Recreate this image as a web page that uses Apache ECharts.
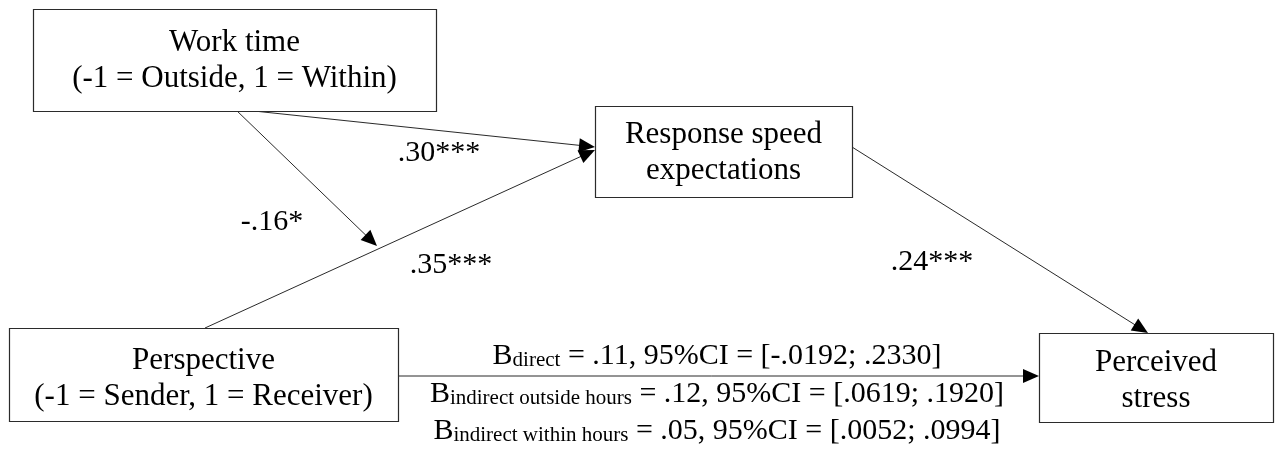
<!DOCTYPE html>
<html>
<head>
<meta charset="utf-8">
<title>Path model</title>
<script src="https://cdn.jsdelivr.net/npm/echarts@6/dist/echarts.min.js"></script>
<style>
  html, body { margin: 0; padding: 0; background: #fff; }
  #main { width: 1278px; height: 454px; }
</style>
</head>
<body>
<div id="main"></div>
<script>
// variables of the model
var nodeLines = [
  ['Work time', '(-1 = Outside, 1 = Within)'],
  ['Response speed', 'expectations'],
  ['Perspective', '(-1 = Sender, 1 = Receiver)'],
  ['Perceived', 'stress']
]

// path coefficients
var pathCoefs = ['.30***', '-.16*', '.35***', '.24***']

// direct / indirect effects of perspective on stress
var effectNames = ['direct', 'indirect outside hours', 'indirect within hours']
var effectB = ['.11', '.12', '.05']
var effectLow = ['-.0192', '.0619', '.0052']
var effectHigh = ['.2330', '.1920', '.0994']

// ---- layout (diagram units = pixels of the 1278 x 454 canvas) ----
// box: [left, top, right, bottom, textCenterX, textCenterY]
var nodeLayout = [
  [33, 9, 436, 111, 234.5, 61],
  [595, 106, 852, 197, 723.5, 153],
  [9, 328, 398, 421, 203.5, 379],
  [1039, 333, 1273, 422, 1156, 381]
]
// arrows: [fromX, fromY, toX, toY]
var edgeLayout = [
  [235, 109, 595, 147],
  [235, 109, 377, 246],
  [205, 328, 595, 150],
  [852, 147, 1148, 333],
  [398, 376, 1039, 376]
]
// coefficient label centers
var coefLayout = [[439, 153], [272, 222], [451, 265], [932, 262]]
// effect lines centers
var effectLayout = [[717, 356], [717, 394], [717, 431]]

var FONT = '"Liberation Serif", "Times New Roman", serif'

function renderNode(params, api) {
  var i = params.dataIndex
  var p0 = api.coord([api.value(0), api.value(1)])
  var p1 = api.coord([api.value(2), api.value(3)])
  var c = api.coord([api.value(4), api.value(5)])
  return {
    type: 'group',
    children: [
      {
        type: 'rect',
        shape: { x: p0[0] + 0.5, y: p0[1] + 0.5, width: p1[0] - p0[0], height: p1[1] - p0[1] },
        style: { fill: '#fff', stroke: '#2b2b2b', lineWidth: 1.2 }
      },
      {
        type: 'text',
        x: c[0],
        y: c[1],
        style: {
          text: nodeLines[i].join('\n'),
          fontFamily: FONT,
          fontSize: 31,
          lineHeight: 36,
          align: 'center',
          verticalAlign: 'middle',
          fill: '#000'
        }
      }
    ]
  }
}

function renderEdge(params, api) {
  var a = api.coord([api.value(0), api.value(1)])
  var b = api.coord([api.value(2), api.value(3)])
  var dx = b[0] - a[0]
  var dy = b[1] - a[1]
  var len = Math.sqrt(dx * dx + dy * dy)
  var ux = dx / len
  var uy = dy / len
  var L = 16 // arrow head length
  var W = 7 // half width
  var bx = b[0] - ux * L
  var by = b[1] - uy * L
  return {
    type: 'group',
    children: [
      {
        type: 'line',
        shape: { x1: a[0], y1: a[1], x2: bx + ux * 2, y2: by + uy * 2 },
        style: { stroke: '#111', lineWidth: 0.9 }
      },
      {
        type: 'polygon',
        shape: { points: [[b[0], b[1]], [bx - uy * W, by + ux * W], [bx + uy * W, by - ux * W]] },
        style: { fill: '#000' }
      }
    ]
  }
}

function renderCoef(params, api) {
  var c = api.coord([api.value(0), api.value(1)])
  return {
    type: 'text',
    x: c[0],
    y: c[1],
    style: {
      text: pathCoefs[params.dataIndex],
      fontFamily: FONT,
      fontSize: 30,
      align: 'center',
      verticalAlign: 'middle',
      fill: '#000'
    }
  }
}

function renderEffect(params, api) {
  var i = params.dataIndex
  var c = api.coord([api.value(0), api.value(1)])
  var rest = ' = ' + effectB[i] + ', 95%CI = [' + effectLow[i] + '; ' + effectHigh[i] + ']'
  return {
    type: 'text',
    x: c[0],
    y: c[1],
    style: {
      text: '{b|B}{s|' + effectNames[i] + '}{b|' + rest + '}',
      align: 'center',
      verticalAlign: 'middle',
      rich: {
        b: { fontFamily: FONT, fontSize: 30, lineHeight: 30, verticalAlign: 'bottom', fill: '#000' },
        s: { fontFamily: FONT, fontSize: 21, lineHeight: 18, verticalAlign: 'bottom', fill: '#000' }
      }
    }
  }
}

var chart = echarts.init(document.getElementById('main'))
var option = {
  animation: false,
  backgroundColor: '#fff',
  grid: { left: 0, right: 0, top: 0, bottom: 0 },
  xAxis: { type: 'value', min: 0, max: 1278, show: false },
  yAxis: { type: 'value', min: 0, max: 454, inverse: true, show: false },
  series: [
    {
      type: 'custom',
      name: 'edges',
      renderItem: renderEdge,
      encode: { x: [0, 2], y: [1, 3] },
      data: edgeLayout,
      z: 1
    },
    {
      type: 'custom',
      name: 'nodes',
      renderItem: renderNode,
      encode: { x: [0, 2, 4], y: [1, 3, 5] },
      data: nodeLayout,
      z: 2
    },
    {
      type: 'custom',
      name: 'coefs',
      renderItem: renderCoef,
      encode: { x: 0, y: 1 },
      data: coefLayout,
      z: 3
    },
    {
      type: 'custom',
      name: 'effects',
      renderItem: renderEffect,
      encode: { x: 0, y: 1 },
      data: effectLayout,
      z: 3
    }
  ]
}
chart.setOption(option)
</script>
</body>
</html>
